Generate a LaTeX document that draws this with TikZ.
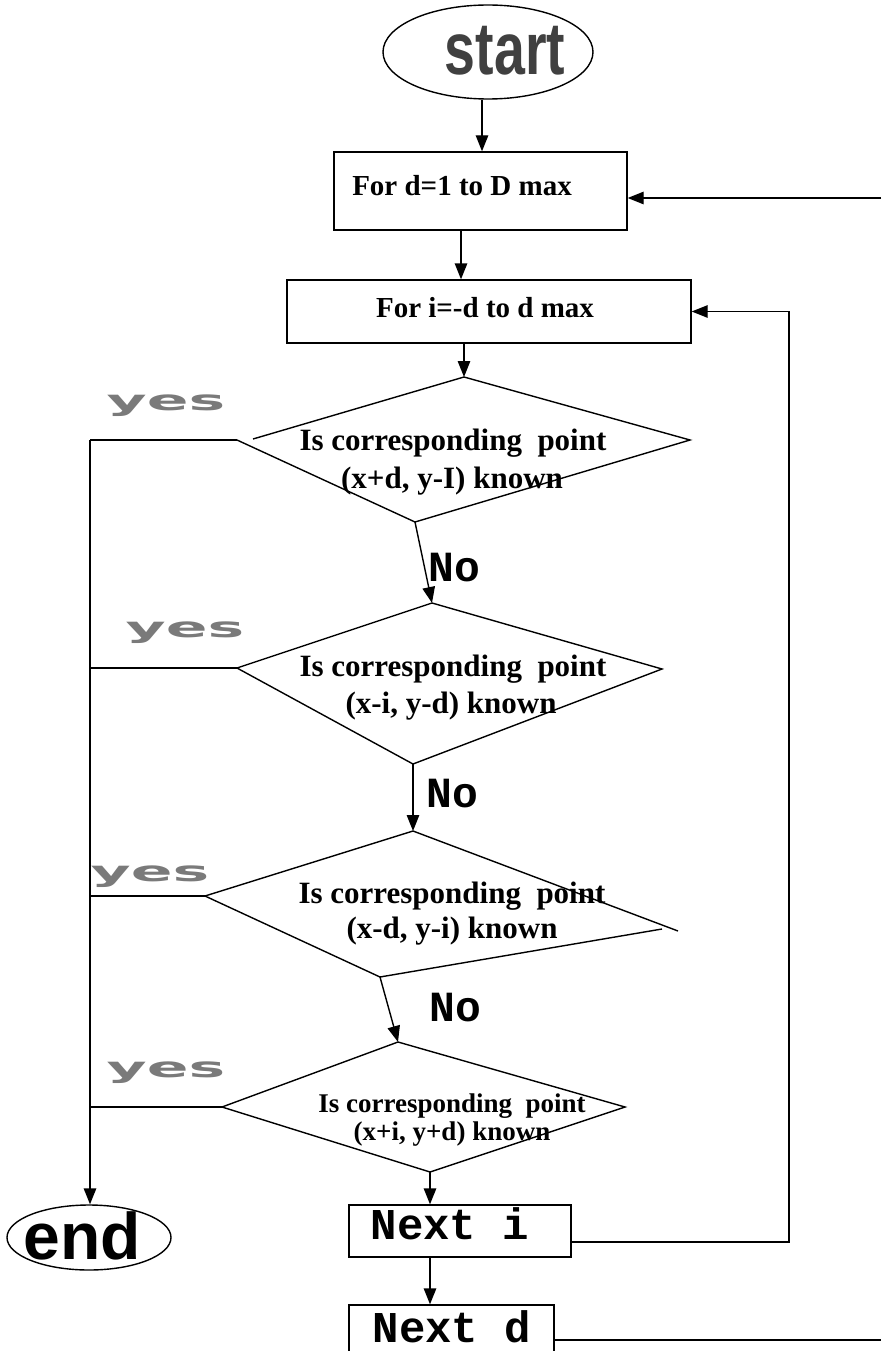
\documentclass[tikz,border=0pt]{standalone}
\usepackage{fontspec}
\setmainfont{Liberation Serif}
\setmonofont{Liberation Mono}
\newfontfamily\arialf{Liberation Sans}
\newfontfamily\dvs{DejaVu Sans}
\usetikzlibrary{arrows.meta,shapes.geometric}
\begin{document}
\begin{tikzpicture}[x=1pt,y=-1pt,
  line width=1.4pt,
  arr/.style={-{Triangle[length=16pt,width=12.5pt]}},
  boxnode/.style={draw,rectangle,inner sep=0pt},
  ellnode/.style={draw,ellipse,inner sep=0pt},
  dtext/.style={font=\bfseries\fontsize{31}{36}\selectfont,inner sep=0pt,anchor=base},
  stext/.style={font=\bfseries\fontsize{27}{31}\selectfont,inner sep=0pt,anchor=base},
  btext/.style={font=\bfseries\fontsize{29}{34}\selectfont,inner sep=0pt,anchor=base},
  ctext/.style={font=\ttfamily\bfseries\fontsize{44}{48}\selectfont,inner sep=0pt,anchor=base},
  notext/.style={font=\ttfamily\bfseries\fontsize{43}{46}\selectfont,inner sep=0pt,anchor=base},
  yestext/.style={font=\dvs\bfseries\fontsize{28}{30}\selectfont,inner sep=0pt,anchor=base,text=black!52},
  bigface/.style={font=\arialf\bfseries\fontsize{74}{78}\selectfont,inner sep=0pt,anchor=base},
]
\useasboundingbox (0,0) rectangle (881,1351);
\clip (0,0) rectangle (881,1351);

% terminals
\node[ellnode,minimum width=210pt,minimum height=94pt] (start) at (488,52) {};
\node[bigface,text=black!75] (startt) at (505,75) {\scalebox{0.75}[1]{start}};
\node[ellnode,minimum width=164pt,minimum height=65pt] (endn) at (89,1237.5) {};
\node[bigface,font=\arialf\bfseries\fontsize{66}{70}\selectfont] (endt) at (82,1259) {end};

% boxes
\node[boxnode,minimum width=293pt,minimum height=78pt] (b1) at (480.5,191) {};
\node[btext] (b1t) at (462,196) {For d=1 to D max};
\node[boxnode,minimum width=404pt,minimum height=63pt] (b2) at (489,311.5) {};
\node[btext] (b2t) at (485,317) {For i=-d to d max};
\node[boxnode,minimum width=222pt,minimum height=52pt] (ni) at (460,1231) {};
\node[ctext] (nit) at (450,1239) {Next i};
\node[boxnode,minimum width=205pt,minimum height=70pt] (nd) at (451.5,1340) {};
\node[ctext] (ndt) at (452,1342) {Next d};

% diamond 1
\coordinate (d1t) at (464,377);
\coordinate (d1r) at (690,440);
\coordinate (d1b) at (415,522);
\coordinate (d1l) at (237,440);
\coordinate (d1lu) at (253,439);
\draw (d1lu) -- (d1t) -- (d1r) -- (d1b) -- (d1l);
\node[dtext] (d1a) at (453,450) {Is corresponding\ \ point};
\node[dtext] (d1c) at (452,488) {(x+d, y-I) known};

% diamond 2
\coordinate (d2t) at (432,603);
\coordinate (d2r) at (662,669);
\coordinate (d2b) at (413,764);
\coordinate (d2l) at (237,668);
\draw (d2l) -- (d2t) -- (d2r) -- (d2b) -- cycle;
\node[dtext] (d2a) at (453,676) {Is corresponding\ \ point};
\node[dtext] (d2c) at (451,713) {(x-i, y-d) known};

% diamond 3
\coordinate (d3t) at (413,831);
\coordinate (d3ru) at (678,931);
\coordinate (d3rl) at (662,929);
\coordinate (d3b) at (380,977);
\coordinate (d3l) at (205,896);
\draw (d3l) -- (d3t) -- (d3ru);
\draw (d3rl) -- (d3b) -- (d3l);
\node[dtext] (d3a) at (452,903) {Is corresponding\ \ point};
\node[dtext] (d3c) at (452,938) {(x-d, y-i) known};

% diamond 4
\coordinate (d4t) at (398,1042);
\coordinate (d4r) at (625,1107);
\coordinate (d4b) at (430,1172);
\coordinate (d4l) at (222,1107);
\draw (d4l) -- (d4t) -- (d4r) -- (d4b) -- cycle;
\node[stext] (d4a) at (452,1112) {Is corresponding\ \ point};
\node[stext] (d4c) at (452,1140) {(x+i, y+d) known};

% No labels
\node[notext] (no1) at (454,581) {No};
\node[notext] (no2) at (452,807) {No};
\node[notext] (no3) at (455,1021) {No};

% yes labels
\node[yestext] (y1) at (166,410) {\scalebox{2.2}[1]{yes}};
\node[yestext] (y2) at (185,637) {\scalebox{2.2}[1]{yes}};
\node[yestext] (y3) at (150,881) {\scalebox{2.2}[1]{yes}};
\node[yestext] (y4) at (166,1077) {\scalebox{2.2}[1]{yes}};

% helper coordinates
\coordinate (cx1) at (461,0);
\coordinate (cx0) at (482,0);
\coordinate (yx) at (90,440);
\coordinate (rgt) at (881,0);
\coordinate (lpx) at (789,0);
\coordinate (b1in) at ([yshift=-7pt]b1.east);
\coordinate (loopd) at (b1in -| rgt);
\coordinate (niout) at ([yshift=-11pt]ni.east);

% connectors
\draw[arr] (start.south -| cx0) -- (b1.north -| cx0);
\draw[arr] (b1.south -| cx1) -- (b2.north -| cx1);
\draw[arr] (b2.south -| d1t) -- (d1t);
\draw[arr] (d1b) -- (d2t);
\draw[arr] (d2b) -- (d3t);
\draw[arr] (d3b) -- (d4t);
\draw[arr] (d4b) -- (ni.north -| d4b);
\draw[arr] (ni.south -| d4b) -- (nd.north -| d4b);

\draw (d1l) -- (yx);
\draw (d2l) -- (d2l -| yx);
\draw (d3l) -- (d3l -| yx);
\draw (d4l) -- (d4l -| yx);
\draw[arr] (yx) -- (yx |- endn.north);

\draw[arr] (loopd) -- (b1in);
\draw[arr] (niout) -| (b2.east -| lpx) -- (b2.east);
\draw (nd.east) -- (nd.east -| rgt);
\end{tikzpicture}
\end{document}
